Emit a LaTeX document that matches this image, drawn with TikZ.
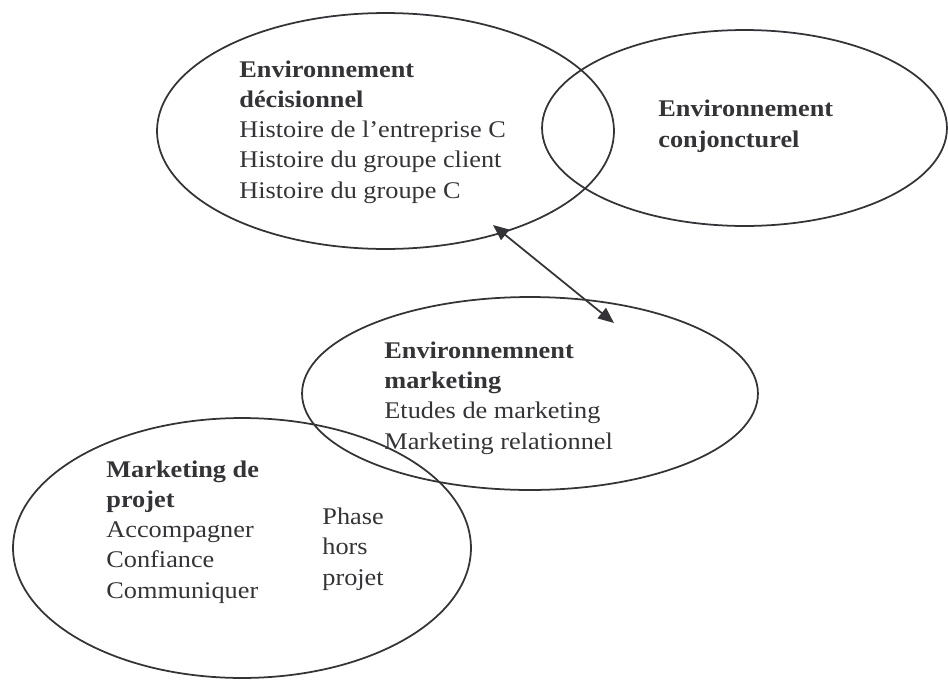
\documentclass[tikz,border=0pt]{standalone}
\usepackage{fontspec}
\setmainfont{Liberation Serif}
\usetikzlibrary{arrows.meta,shapes.geometric}
\definecolor{ink}{RGB}{52,52,56}
\newcommand{\txtsize}{\fontsize{13.6pt}{17.1pt}\selectfont}
\tikzset{
  bulle/.style={draw=ink,line width=1pt,ellipse,inner sep=0pt},
  txt/.style={anchor=base west,inner sep=0pt,align=left,text=ink,font=\txtsize,xscale=1.1}
}
\begin{document}
\begin{tikzpicture}[x=0.02cm,y=-0.02cm]
\useasboundingbox (0,0) rectangle (948,680);
%draw the four ellipses
\node[bulle,minimum width=9.14cm,minimum height=4.72cm] (dec) at (385.5,131) {};
\node[bulle,minimum width=8.1cm,minimum height=3.92cm] (conj) at (744.5,128) {};
\node[bulle,minimum width=9.12cm,minimum height=3.86cm] (mkt) at (530,393.5) {};
\node[bulle,minimum width=9.16cm,minimum height=5.2cm] (proj) at (242,548) {};
%texts inside the ellipses (placed at the baseline of their last line)
\node[txt] (tdec) at (239,198) {\textbf{Environnement}\\ \textbf{décisionnel}\\ Histoire de l’entreprise C\\ Histoire du groupe client\\ Histoire du groupe C};
\node[txt] (tconj) at (658,147) {\textbf{Environnement}\\ \textbf{conjoncturel}};
\node[txt] (tmkt) at (384,449) {\textbf{Environnemnent}\\ \textbf{marketing}\\ Etudes de marketing\\ Marketing relationnel};
\node[txt] (tproj) at (106,598) {\textbf{Marketing de}\\ \textbf{projet}\\ Accompagner\\ Confiance\\ Communiquer};
\node[txt] (phase) at (322,585) {Phase\\ hors\\ projet};
% draw arrow
\coordinate (a) at (493,225);
\coordinate (b) at (614,323);
\draw[{Triangle[length=9pt,width=7.5pt]}-{Triangle[length=9pt,width=7.5pt]},draw=ink,fill=ink,line width=1pt] (a) -- (b);
\end{tikzpicture}
\end{document}
